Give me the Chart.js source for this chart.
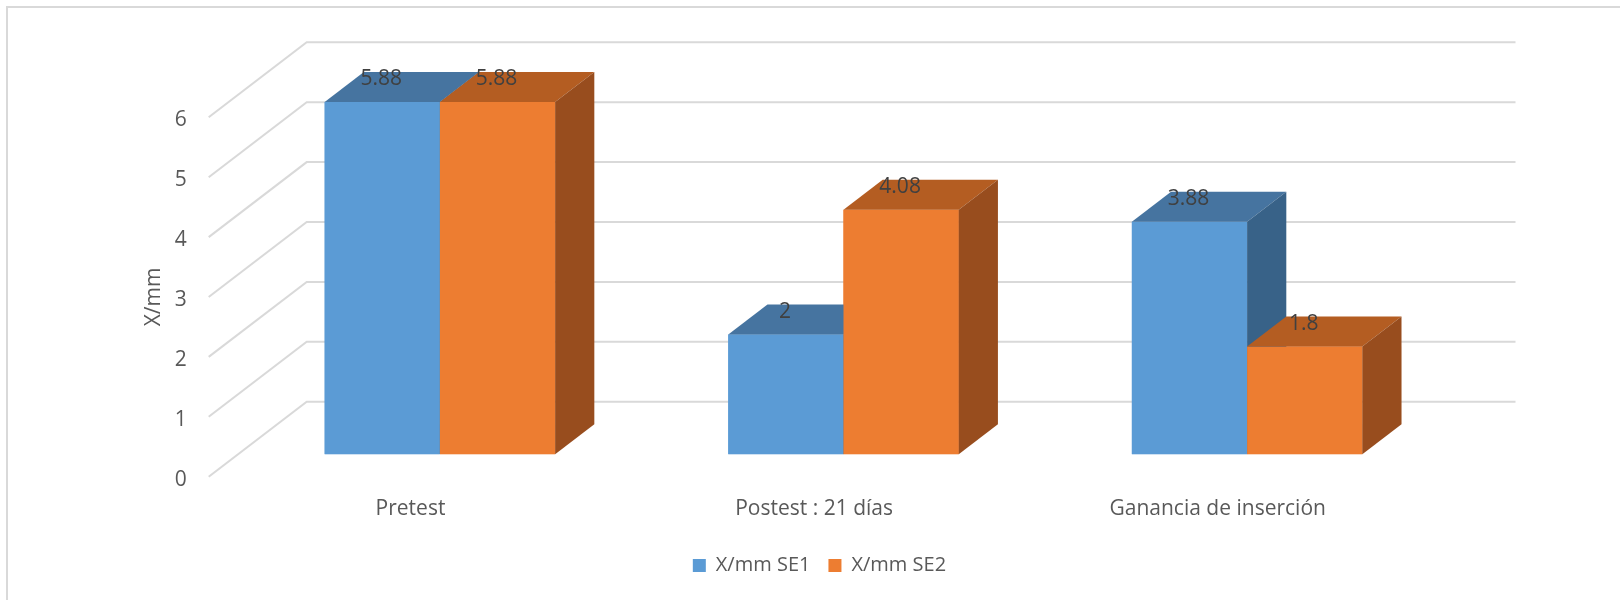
<!DOCTYPE html>
<html>
<head>
<meta charset="utf-8">
<script src="https://cdn.jsdelivr.net/npm/chart.js@4.4.0/dist/chart.umd.min.js"></script>
<style>
  html, body { margin: 0; padding: 0; background: #fff; }
  #wrap { width: 1620px; height: 600px; }
</style>
</head>
<body>
<div id="wrap"><canvas id="chartInsercion" width="1620" height="600"></canvas></div>
<script>
// Data
var categorias = ['Pretest', 'Postest : 21 días', 'Ganancia de inserción'];
var nombresSerie = ['X/mm SE1', 'X/mm SE2'];
var valoresSE1 = [5.88, 2, 3.88];
var valoresSE2 = [5.88, 4.08, 1.8];
var ticksY = [0, 1, 2, 3, 4, 5, 6];

// 3D look: depth of the floor/walls, and where the columns sit inside it
var FONDO_X = 98, FONDO_Y = -75;
var FRENTE_BARRA = 0.3;
var PROF_BARRA = 0.4;

var colorFrente = ['#5B9BD5', '#ED7D31'];
var colorArriba = ['#4674A0', '#B45D22'];
var colorLado = ['#386288', '#984D1E'];
var colorRejilla = '#d9d9d9';
var colorTexto = '#595959';

Chart.defaults.font.family = '"Open Sans", sans-serif';
Chart.defaults.font.size = 21;
Chart.defaults.color = colorTexto;

var efecto3d = {
    id: 'efecto3d',
    afterLayout: function (chart) {
        // legend sits a bit right of the plot centre
        chart.legend.left += 39;
        chart.legend.right += 39;
    },
    beforeDraw: function (chart) {
        var ctx = chart.ctx;
        ctx.save();
        ctx.fillStyle = '#fff';
        ctx.fillRect(0, 0, chart.width, chart.height);
        // frame
        ctx.strokeStyle = colorRejilla;
        ctx.lineWidth = 2;
        ctx.beginPath();
        ctx.moveTo(7, chart.height);
        ctx.lineTo(7, 7);
        ctx.lineTo(chart.width, 7);
        ctx.stroke();
        ctx.restore();
    },
    beforeDatasetsDraw: function (chart) {
        var ctx = chart.ctx;
        var area = chart.chartArea;
        var y = chart.scales.y;
        // side wall + back wall gridlines
        ctx.save();
        ctx.strokeStyle = colorRejilla;
        ctx.lineWidth = 2;
        y.ticks.forEach(function (t) {
            var py = y.getPixelForValue(t.value);
            ctx.beginPath();
            ctx.moveTo(area.left, py);
            ctx.lineTo(area.left + FONDO_X, py + FONDO_Y);
            ctx.lineTo(area.right + FONDO_X - 2, py + FONDO_Y);
            ctx.stroke();
        });
        ctx.restore();
        // push the columns back into the box
        ctx.save();
        ctx.translate(FONDO_X * FRENTE_BARRA, FONDO_Y * FRENTE_BARRA);
    },
    afterDatasetsDraw: function (chart) {
        var ctx = chart.ctx;
        var dx = FONDO_X * PROF_BARRA, dy = FONDO_Y * PROF_BARRA;
        var n = chart.data.labels.length;

        // per category: SE1 first, then SE2 so it hides the SE1 side
        for (var i = 0; i < n; i++) {
            chart.data.datasets.forEach(function (ds, d) {
                var bar = chart.getDatasetMeta(d).data[i];
                var p = bar.getProps(['x', 'y', 'base', 'width'], true);
                var l = p.x - p.width / 2, r = p.x + p.width / 2;
                bar.draw(ctx);

                ctx.fillStyle = colorArriba[d];
                ctx.beginPath();
                ctx.moveTo(l, p.y);
                ctx.lineTo(l + dx, p.y + dy);
                ctx.lineTo(r + dx, p.y + dy);
                ctx.lineTo(r, p.y);
                ctx.closePath();
                ctx.fill();

                ctx.fillStyle = colorLado[d];
                ctx.beginPath();
                ctx.moveTo(r, p.y);
                ctx.lineTo(r + dx, p.y + dy);
                ctx.lineTo(r + dx, p.base + dy);
                ctx.lineTo(r, p.base);
                ctx.closePath();
                ctx.fill();
            });
        }

        // value labels on the top faces
        ctx.fillStyle = '#404040';
        ctx.font = '21px "Open Sans", sans-serif';
        ctx.textAlign = 'center';
        ctx.textBaseline = 'middle';
        chart.data.datasets.forEach(function (ds, d) {
            chart.getDatasetMeta(d).data.forEach(function (bar, i) {
                ctx.fillText(String(ds.data[i]), bar.x - 1, bar.y + dy + 7.4);
            });
        });
        ctx.restore();
    }
};

var data = {
    labels: categorias,
    datasets: [{
        label: nombresSerie[0],
        data: valoresSE1,
        backgroundColor: colorFrente[0],
        borderWidth: 0
    }, {
        label: nombresSerie[1],
        data: valoresSE2,
        backgroundColor: colorFrente[1],
        borderWidth: 0
    }]
};

var options = {
    responsive: false,
    animation: false,
    layout: {
        padding: { left: 141.4, right: 200.5, top: 117.3, bottom: 14.5 }
    },
    datasets: {
        bar: { categoryPercentage: 0.571, barPercentage: 1 }
    },
    scales: {
        x: {
            grid: { display: false, drawTicks: false },
            border: { display: false },
            ticks: { padding: 20, color: colorTexto },
            afterFit: function (s) { s.height = 60.8; }
        },
        y: {
            min: 0,
            max: 6,
            grid: { display: false, drawTicks: false },
            border: { display: false },
            afterBuildTicks: function (s) {
                s.ticks = ticksY.map(function (v) { return { value: v }; });
            },
            ticks: { padding: 22, labelOffset: 3, color: colorTexto },
            title: {
                display: true,
                text: 'X/mm',
                color: colorTexto,
                padding: 0,
                font: { size: 21 }
            },
            afterFit: function (s) { s.width = 67.3; }
        }
    },
    plugins: {
        legend: {
            position: 'bottom',
            labels: {
                boxWidth: 13,
                boxHeight: 13,
                padding: 18,
                color: colorTexto,
                font: { size: 20 }
            }
        },
        tooltip: { enabled: false }
    }
};

var ctx = document.getElementById('chartInsercion').getContext('2d');
var grafico = new Chart(ctx, {
    type: 'bar',
    data: data,
    options: options,
    plugins: [efecto3d]
});
</script>
</body>
</html>
